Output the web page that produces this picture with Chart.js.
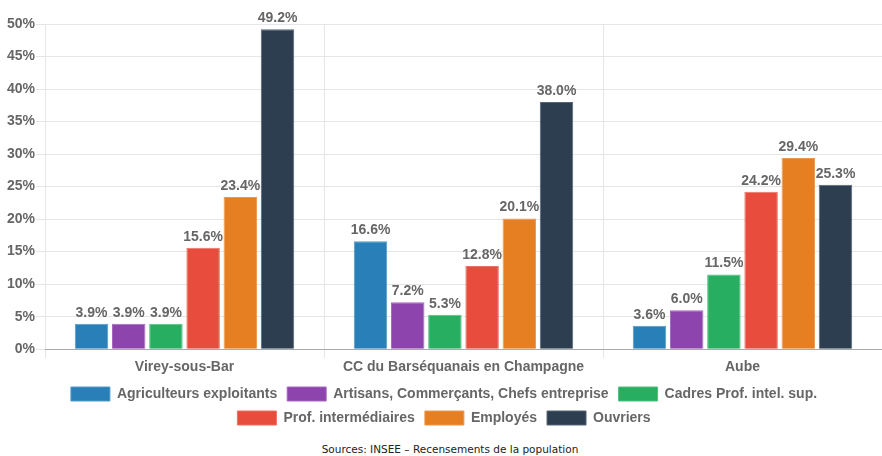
<!DOCTYPE html>
<html><head><meta charset="utf-8">
<script src="https://cdn.jsdelivr.net/npm/chart.js@4/dist/chart.umd.min.js"></script>
<style>
html,body{margin:0;padding:0;background:#fff;}
#wrap{position:relative;width:882px;height:435px;}
#src{position:absolute;top:443px;left:9px;width:882px;text-align:center;font-family:"DejaVu Sans",Verdana,sans-serif;font-size:10.5px;color:#222;}
</style></head>
<body>
<div id="wrap"><canvas id="c" width="882" height="435"></canvas></div>
<div id="src">Sources: INSEE – Recensements de la population</div>
<script>
const categories = ["Virey-sous-Bar", "CC du Barséquanais en Champagne", "Aube"];
const seriesNames = ["Agriculteurs exploitants", "Artisans, Commerçants, Chefs entreprise", "Cadres Prof. intel. sup.", "Prof. intermédiaires", "Employés", "Ouvriers"];
const agriculteurs = [3.9, 16.6, 3.6];
const artisans = [3.9, 7.2, 6.0];
const cadres = [3.9, 5.3, 11.5];
const profInter = [15.6, 12.8, 24.2];
const employes = [23.4, 20.1, 29.4];
const ouvriers = [49.2, 38.0, 25.3];
const yTicks = [0, 5, 10, 15, 20, 25, 30, 35, 40, 45, 50];
const colors = ["#2980b9", "#8e44ad", "#27ae60", "#e74c3c", "#e67e22", "#2c3e50"];
const borders = ["#5599c7", "#a569bd", "#52be80", "#ec7063", "#eb984e", "#566573"];
const values = [agriculteurs, artisans, cadres, profInter, employes, ouvriers];
const FONT = '"Liberation Sans", Arial, sans-serif';

const labelPlugin = {
  id: 'valueLabels',
  afterDatasetsDraw(chart) {
    const ctx = chart.ctx;
    ctx.save();
    ctx.font = 'bold 14px ' + FONT;
    ctx.fillStyle = '#666';
    ctx.textAlign = 'center';
    ctx.textBaseline = 'bottom';
    chart.data.datasets.forEach((ds, i) => {
      const meta = chart.getDatasetMeta(i);
      meta.data.forEach((bar, j) => {
        ctx.fillText(ds.data[j].toFixed(1) + '%', bar.x, bar.y - 4);
      });
    });
    ctx.restore();
  }
};

new Chart(document.getElementById('c'), {
  type: 'bar',
  data: {
    labels: categories,
    datasets: seriesNames.map((n, i) => ({
      label: n, data: values[i], backgroundColor: colors[i], borderColor: borders[i], borderWidth: 1
    }))
  },
  options: {
    responsive: false,
    animation: false,
    layout: { padding: { top: 24, right: 0, left: 6, bottom: 0 } },
    plugins: {
      legend: {
        position: 'bottom',
        labels: { boxWidth: 39, boxHeight: 14, color: '#666', padding: 10, font: { size: 14, weight: 'bold', family: FONT } }
      },
      tooltip: { enabled: false }
    },
    scales: {
      x: {
        grid: { color: '#e6e6e6', drawTicks: true, tickLength: 9 },
        border: { color: '#aaa' },
        ticks: { padding: 1, color: '#666', font: { size: 14, weight: 'bold', family: FONT } }
      },
      y: {
        min: 0, max: 50,
        afterBuildTicks: axis => { axis.ticks = yTicks.map(v => ({ value: v })); },
        grid: { color: '#e6e6e6', drawTicks: true, tickLength: 9 },
        border: { display: false },
        ticks: { padding: 1, color: '#666', callback: v => v + '%', font: { size: 14, weight: 'bold', family: FONT } }
      }
    }
  },
  plugins: [labelPlugin]
});
</script>
</body></html>
